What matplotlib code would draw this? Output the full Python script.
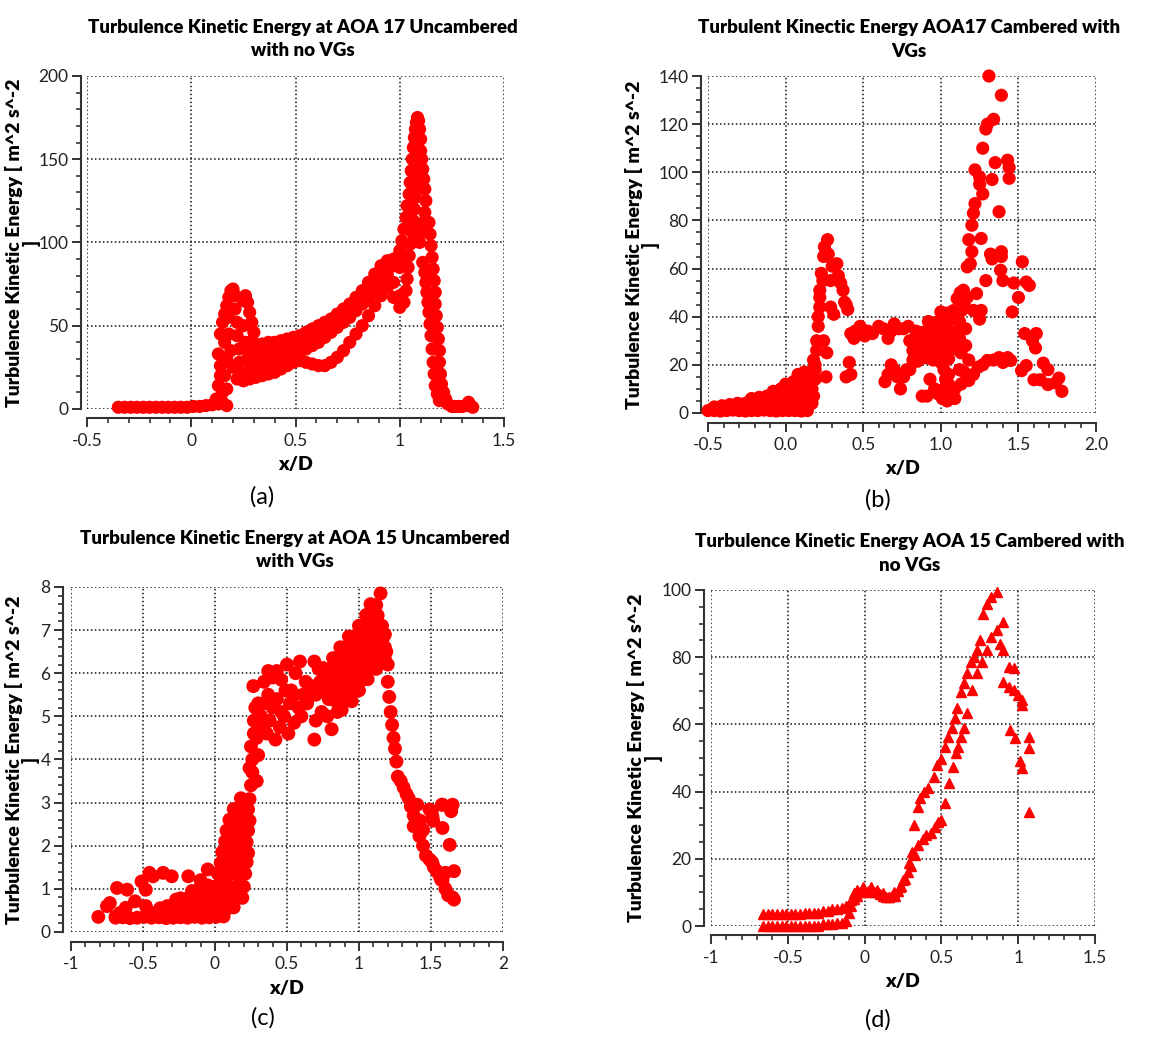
import matplotlib
matplotlib.use('Agg')
import matplotlib.pyplot as plt
from matplotlib.ticker import MultipleLocator, FormatStrFormatter

plt.rcParams['axes.unicode_minus'] = False
FONT = ['Lato', 'DejaVu Sans']
plt.rcParams['font.family'] = FONT
RED = '#ff0000'

# ---------------- (a) AOA 17 uncambered, no VGs ----------------
a_x_base = [-0.35, -0.32, -0.29, -0.26, -0.23, -0.20, -0.17, -0.14, -0.11, -0.08, -0.05,
            -0.02, 0.01, 0.04, 0.07, 0.10, 0.13, 0.15, 0.17]
a_y_base = [1, 1, 1, 1, 1, 1, 1, 1, 1, 1, 1, 1, 1.5, 1.5, 2, 2.5, 3, 4, 2]
a_x_pk1 = [0.12, 0.13, 0.14, 0.15, 0.14, 0.13, 0.14, 0.15, 0.16, 0.17, 0.18, 0.19, 0.20,
           0.21, 0.21, 0.22, 0.22, 0.23, 0.23, 0.24, 0.22, 0.20, 0.19, 0.18, 0.17, 0.16,
           0.17, 0.25, 0.26, 0.27, 0.28, 0.29, 0.30, 0.31, 0.25, 0.26, 0.27, 0.26, 0.25,
           0.16, 0.18]
a_y_pk1 = [6, 14, 20, 10, 26, 33, 45, 52, 57, 62, 67, 71, 72, 68, 60, 52, 44, 36, 28, 22,
           18, 25, 35, 45, 30, 20, 12, 65, 68, 64, 58, 52, 46, 38, 50, 40, 30, 20, 17, 40, 55]
a_x_band = [0.28, 0.31, 0.34, 0.37, 0.40, 0.43, 0.46, 0.49, 0.52, 0.55, 0.58, 0.61, 0.64,
            0.67, 0.70, 0.73, 0.76, 0.79, 0.82, 0.85, 0.88, 0.91, 0.94, 0.97, 1.00]
a_y_band_top = [40, 39, 39, 40, 40, 41, 42, 43, 44, 46, 48, 50, 52, 54, 57, 60, 63, 67, 71,
                76, 81, 86, 89, 90, 90]
a_y_band_m1 = [34, 34, 35, 36, 37, 38, 39, 40, 41, 43, 45, 47, 49, 52, 55, 58, 61, 65, 69,
               73, 78, 83, 86, 86, 85]
a_y_band_m2 = [28, 29, 30, 31, 32, 33, 35, 36, 38, 40, 42, 44, 46, 49, 52, 55, 58, 62, 66,
               70, 75, 79, 81, 76, 68]
a_y_band_low = [22, 23, 24, 26, 27, 28, 30, 32, 34, 36, 38, 40, 43, 46, 49, 52, 55, 59, 63,
                67, 71, 74, 73, 67, 61]
a_x_loop = [0.25, 0.28, 0.31, 0.34, 0.37, 0.40, 0.43, 0.46, 0.49, 0.52, 0.55, 0.58, 0.61,
            0.64, 0.67, 0.70, 0.73, 0.76, 0.79, 0.82, 0.85, 0.88, 0.91]
a_y_loop = [17, 18, 19, 20, 21, 22, 24, 26, 28, 29, 28, 27, 26, 26, 28, 31, 35, 40, 45, 50,
            56, 62, 68]
a_x_rise1 = [1.00, 1.01, 1.02, 1.03, 1.035, 1.045, 1.05, 1.055, 1.06, 1.065, 1.07, 1.075,
             1.08, 1.085]
a_y_rise1 = [95, 101, 108, 115, 122, 129, 136, 143, 150, 157, 163, 168, 172, 175]
a_x_rise2 = [1.02, 1.03, 1.035, 1.04, 1.045, 1.05, 1.06, 1.065, 1.07, 1.075, 1.08, 1.085, 1.09]
a_y_rise2 = [64, 71, 78, 85, 92, 99, 106, 113, 120, 127, 134, 141, 148]
a_x_pkr = [1.09, 1.095, 1.10, 1.10, 1.105, 1.11, 1.115, 1.12, 1.125, 1.12, 1.115, 1.10,
           1.085, 1.095, 1.10]
a_y_pkr = [173, 168, 162, 155, 150, 144, 138, 132, 125, 118, 112, 110, 103, 100, 106]
a_x_d1 = [1.14, 1.145, 1.15, 1.155, 1.16, 1.165, 1.17, 1.17, 1.175, 1.18, 1.185, 1.19, 1.19,
          1.195, 1.20, 1.21, 1.22, 1.23, 1.25]
a_y_d1 = [112, 105, 98, 91, 84, 77, 70, 63, 56, 49, 42, 35, 28, 21, 15, 10, 6, 3, 1.5]
a_x_d2 = [1.11, 1.12, 1.125, 1.13, 1.135, 1.14, 1.145, 1.15, 1.155, 1.16, 1.165, 1.17, 1.18, 1.19]
a_y_d2 = [88, 82, 76, 70, 64, 58, 51, 44, 36, 28, 21, 14, 9, 5]
a_x_tail = [1.26, 1.28, 1.30, 1.32, 1.34, 1.35, 1.33]
a_y_tail = [1.5, 1.5, 1.5, 2, 2, 1, 4]

# ---------------- (b) AOA 17 cambered, with VGs ----------------
b_x_wedge = [-0.50, -0.46, -0.42, -0.38, -0.34, -0.30, -0.26, -0.22, -0.18, -0.14, -0.10,
             -0.06, -0.02, 0.02, 0.06, 0.10, 0.14,
             -0.46, -0.41, -0.36, -0.31, -0.26, -0.21, -0.16, -0.11, -0.06, -0.01, 0.04,
             0.09, 0.14, 0.17,
             -0.22, -0.17, -0.12, -0.07, -0.02, 0.03, 0.08, 0.13, 0.18,
             -0.08, -0.03, 0.02, 0.07, 0.12, 0.17,
             0.00, 0.05, 0.10, 0.15, 0.19,
             0.08, 0.12, 0.16, 0.19]
b_y_wedge = [1, 1, 0.8, 1, 1.2, 1, 0.8, 1, 1, 1.2, 1, 0.8, 1, 1, 1, 0.8, 1,
             2.5, 3, 3.5, 4, 4, 4.2, 4, 4.3, 4, 4.2, 4, 4.2, 4, 4,
             6, 6.5, 7, 7.2, 7, 7.3, 7, 7.2, 7,
             9, 10, 10.2, 10, 10.3, 10,
             12, 13, 14, 14, 14,
             16, 17, 17, 18]
b_x_pk = [0.18, 0.20, 0.21, 0.22, 0.22, 0.23, 0.245, 0.27, 0.275, 0.30, 0.29, 0.33, 0.37,
          0.38, 0.39, 0.40, 0.29, 0.31, 0.245, 0.26, 0.265, 0.20, 0.21, 0.19, 0.22, 0.24,
          0.25, 0.34, 0.355, 0.42, 0.41, 0.39, 0.42, 0.45, 0.44]
b_y_pk = [22, 30, 36, 44, 51, 58, 65, 72, 66, 61, 55, 62, 51, 46, 45, 43, 44, 41, 30, 15,
          25, 26, 40, 20, 48, 55, 69, 57, 54, 33, 21, 15, 16, 34, 31]
b_x_mid = [0.45, 0.48, 0.51, 0.53, 0.56, 0.60, 0.63, 0.66, 0.68, 0.70, 0.73, 0.76, 0.79]
b_y_mid = [34, 36, 32, 34, 33, 36, 35, 31, 34, 37, 35, 35, 36]
b_x_lo = [0.64, 0.66, 0.68, 0.70, 0.72, 0.74, 0.76, 0.78, 0.80, 0.82, 0.88, 0.91, 0.93,
          0.96, 0.98, 1.01, 1.04, 1.07, 1.09]
b_y_lo = [13, 16, 20, 18, 15, 10, 15, 18, 18, 22, 7, 7, 14, 10, 8, 6, 5, 8, 6]
b_x_core = [0.85, 0.90, 0.95, 1.00, 1.05,
            0.82, 0.86, 0.90, 0.94, 0.98, 1.02, 1.06, 1.10,
            0.80, 0.84, 0.88, 0.92, 0.96, 1.00, 1.04, 1.08, 1.12,
            0.84, 0.88, 0.92, 0.96, 1.00, 1.04, 1.08, 1.12, 1.16,
            0.92, 0.96, 1.00, 1.04, 1.08, 1.12,
            1.00, 1.04, 1.08,
            1.02, 1.03, 1.02, 1.05, 1.05]
b_y_core = [21.5, 23, 22, 21, 22.5,
            26, 25.5, 26.5, 26, 25, 26.5, 26, 27,
            30, 29.5, 30.5, 30, 31, 29.5, 30, 30.5, 31,
            34, 33.5, 34.5, 35, 34, 35, 33.5, 34, 35,
            38, 37.5, 38.5, 38, 39, 38,
            42, 41.5, 42.5,
            18, 14, 10, 12, 16]
b_x_up = [1.31, 1.39, 1.34, 1.30, 1.29, 1.27, 1.35, 1.43, 1.44, 1.44, 1.22, 1.25, 1.25, 1.33,
          1.27, 1.22, 1.21, 1.20, 1.18, 1.26, 1.20, 1.375, 1.32, 1.33, 1.39, 1.39, 1.19,
          1.17, 1.385, 1.40, 1.29, 1.47, 1.55, 1.57, 1.525, 1.50, 1.46, 1.23, 1.125, 1.145,
          1.105, 1.26, 1.25, 1.21, 1.135, 1.15, 1.17]
b_y_up = [140, 132, 122, 120, 118, 110, 104, 105, 102, 97.5, 101, 98, 95, 97, 91, 87, 83,
          78, 72, 72.5, 67, 83.6, 66, 64, 67, 65, 62, 60.7, 59.3, 55, 55, 54, 54.4, 53,
          62.8, 48, 42, 49.6, 50, 51, 47.5, 42.6, 39, 42.6, 42.6, 45, 48]
b_x_arc = [1.05, 1.09, 1.13, 1.18, 1.21, 1.24, 1.27, 1.30, 1.34, 1.375, 1.40, 1.43, 1.45,
           1.52, 1.55, 1.60, 1.64, 1.66, 1.69, 1.69, 1.74, 1.76, 1.78, 1.54, 1.615, 1.59,
           1.61, 1.12, 1.15, 1.18, 1.13, 1.16]
b_y_arc = [9, 10, 12, 13.5, 16, 19, 20, 21.8, 22, 23, 21, 23, 21.8, 17.6, 19.7, 13.8, 13.8,
           20.7, 18, 11.8, 12.5, 14.5, 9, 33, 33, 30, 27, 18, 17, 22, 25, 28]

# ---------------- (c) AOA 15 uncambered, with VGs ----------------
c_x_sparse = [-0.81, -0.75, -0.73, -0.68, -0.61, -0.69, -0.66, -0.62, -0.555, -0.51, -0.48,
              -0.455, -0.43, -0.36, -0.30, -0.185, -0.48, -0.42, -0.33, -0.27, -0.16,
              -0.10, -0.05]
c_y_sparse = [0.35, 0.6, 0.67, 1.02, 0.98, 0.36, 0.44, 0.56, 0.71, 1.17, 0.98, 1.37, 1.29,
              1.37, 1.29, 1.29, 0.6, 0.44, 0.6, 0.75, 0.95, 1.2, 1.45]
c_x_low = [-0.69, -0.64, -0.59, -0.54, -0.49, -0.44, -0.39, -0.34, -0.29, -0.24, -0.19,
           -0.14, -0.09, -0.04, 0.01, 0.06,
           -0.38, -0.31, -0.26, -0.21, -0.16, -0.11, -0.06, -0.01, 0.04, 0.09, 0.13,
           -0.24, -0.18, -0.13, -0.08, -0.03, 0.02, 0.07, 0.12, 0.16, 0.19,
           -0.10, -0.05, 0.00, 0.05, 0.10, 0.15, 0.20]
c_y_low = [0.33, 0.34, 0.32, 0.33, 0.35, 0.33, 0.34, 0.32, 0.33, 0.34, 0.33, 0.35, 0.33,
           0.34, 0.35, 0.36,
           0.55, 0.52, 0.56, 0.55, 0.58, 0.55, 0.57, 0.56, 0.58, 0.55, 0.57,
           0.78, 0.8, 0.82, 0.8, 0.83, 0.8, 0.82, 0.8, 0.81, 0.79,
           1.05, 1.08, 1.05, 1.07, 1.05, 1.06, 1.05]
c_x_col = [0.02, 0.07, 0.12, 0.17, 0.21,
           0.04, 0.09, 0.14, 0.19, 0.22,
           0.05, 0.10, 0.15, 0.20, 0.23,
           0.07, 0.12, 0.17, 0.22,
           0.08, 0.13, 0.18, 0.23,
           0.10, 0.15, 0.20, 0.24,
           0.13, 0.18, 0.23,
           0.18, 0.24,
           0.25, 0.26, 0.26, 0.25, 0.27, 0.27, 0.28, 0.29, 0.30, 0.29, 0.31, 0.266, 0.30,
           0.32, 0.24]
c_y_col = [1.35, 1.33, 1.36, 1.34, 1.35,
           1.6, 1.58, 1.61, 1.6, 1.62,
           1.85, 1.84, 1.86, 1.85, 1.83,
           2.1, 2.12, 2.1, 2.08,
           2.35, 2.36, 2.34, 2.35,
           2.6, 2.62, 2.6, 2.58,
           2.85, 2.87, 2.84,
           3.1, 3.08,
           3.4, 3.7, 4.0, 4.3, 4.6, 4.9, 5.2, 3.5, 4.1, 4.5, 4.8, 5.7, 5.3, 5.0, 3.8]
c_x_plat = [0.34, 0.37, 0.40, 0.43, 0.46, 0.50, 0.53, 0.56, 0.59, 0.63, 0.66, 0.69, 0.72,
            0.75, 0.34, 0.37, 0.40, 0.43, 0.46, 0.49, 0.52, 0.55, 0.58, 0.61, 0.64, 0.67,
            0.70, 0.73, 0.34, 0.38, 0.42, 0.45, 0.48, 0.51, 0.55, 0.60, 0.69, 0.70, 0.74,
            0.78, 0.81, 0.79, 0.76, 0.36]
c_y_plat = [5.8, 6.05, 5.9, 6.05, 5.85, 6.2, 5.6, 6.0, 6.27, 5.8, 5.5, 6.27, 6.1, 6.12,
            5.3, 5.5, 5.2, 5.4, 5.1, 5.6, 5.3, 5.5, 5.2, 5.5, 5.3, 5.7, 5.5, 5.8,
            4.8, 4.9, 4.46, 4.75, 5.0, 4.6, 4.85, 5.0, 4.46, 4.9, 5.1, 5.0, 4.7, 5.4, 5.6,
            4.6]
c_x_dense = [0.85, 0.88,
             0.84, 0.88, 0.92, 0.95,
             0.80, 0.84, 0.88, 0.92, 0.96, 1.00,
             0.78, 0.82, 0.86, 0.90, 0.94, 0.98, 1.02, 1.06,
             0.80, 0.84, 0.88, 0.92, 0.96, 1.00, 1.04, 1.08, 1.12,
             0.82, 0.86, 0.90, 0.94, 0.98, 1.02, 1.06, 1.10, 1.14, 1.18,
             0.87, 0.91, 0.95, 0.99, 1.03, 1.07, 1.11, 1.15, 1.18,
             0.93, 0.97, 1.01, 1.05, 1.09, 1.13, 1.17,
             1.00, 1.04, 1.08, 1.12, 1.16,
             1.05, 1.09, 1.13,
             1.08, 1.12, 1.15]
c_y_dense = [5.1, 5.15,
             5.35, 5.3, 5.4, 5.35,
             5.6, 5.62, 5.58, 5.6, 5.62, 5.6,
             5.85, 5.87, 5.84, 5.85, 5.86, 5.85, 5.84, 5.86,
             6.1, 6.12, 6.08, 6.1, 6.11, 6.1, 6.09, 6.12, 6.1,
             6.35, 6.36, 6.34, 6.35, 6.37, 6.35, 6.34, 6.36, 6.35, 6.33,
             6.6, 6.61, 6.59, 6.6, 6.62, 6.6, 6.6, 6.58, 6.6,
             6.85, 6.86, 6.84, 6.85, 6.86, 6.85, 6.84,
             7.1, 7.11, 7.09, 7.1, 7.1,
             7.35, 7.36, 7.34,
             7.6, 7.58, 7.85]
c_x_desc = [1.18, 1.19, 1.20, 1.20, 1.21, 1.22, 1.23, 1.24, 1.25, 1.26, 1.27, 1.29, 1.31,
            1.33, 1.345, 1.365, 1.38, 1.405, 1.425, 1.445, 1.445, 1.465, 1.49, 1.505, 1.52,
            1.545, 1.56, 1.58, 1.60, 1.62, 1.65, 1.66, 1.49, 1.51, 1.58, 1.58, 1.64, 1.65,
            1.63, 1.66, 1.60, 1.57, 1.54, 1.51, 1.42, 1.38, 1.36, 1.575, 1.505, 1.515]
c_y_desc = [6.9, 6.5, 6.2, 5.8, 5.45, 5.1, 4.8, 4.5, 4.25, 3.95, 3.6, 3.5, 3.35, 3.2, 3.1,
            2.95, 2.7, 2.95, 2.58, 2.36, 2.0, 1.77, 1.68, 1.63, 1.5, 1.4, 1.3, 1.2, 1.0,
            0.85, 0.8, 0.75, 2.84, 2.68, 2.95, 2.41, 2.8, 2.95, 2.02, 1.41, 1.37, 1.21,
            1.41, 1.6, 2.22, 2.45, 2.91, 2.95, 2.8, 2.58]

# ---------------- (d) AOA 15 cambered, no VGs ----------------
d_x_row = [-0.66, -0.63, -0.60, -0.57, -0.54, -0.51, -0.48, -0.45, -0.42, -0.39, -0.36,
           -0.33, -0.30, -0.27, -0.24, -0.21, -0.18, -0.15, -0.12]
d_y_row_lo = [0, 0, 0, 0, 0, 0, 0, 0, 0, 0, 0, 0, 0, 0.5, 0.5, 0.5, 1, 1, 1.5]
d_y_row_hi = [3.5, 3.5, 3.5, 3.5, 3.5, 3.5, 3.5, 3.5, 3.5, 4, 4, 4, 4, 4.5, 4.5, 5, 5, 5.5, 6]
d_x_lo = [-0.10, -0.09, -0.07, -0.05, -0.03, -0.01, 0.02, 0.04, 0.06, 0.08, 0.10, 0.12,
          0.14, 0.16, 0.18, 0.20, 0.22, 0.24, 0.26, 0.28, 0.30, 0.33, 0.35, 0.38, 0.40,
          0.43, 0.46, 0.48, 0.50, 0.525, 0.55, 0.575, 0.595, 0.605, 0.625, 0.645, 0.665,
          0.70, 0.73, 0.765, 0.795, 0.82, 0.865, 0.90]
d_y_lo = [4, 6, 8, 9, 10, 10, 10.5, 10, 10, 10, 9.5, 9, 8.5, 8.5, 9, 9, 10.5, 12, 14, 16,
          18, 21, 24, 26, 27, 27.6, 29.6, 31, 31.5, 36.5, 42.5, 47.4, 51.4, 53.4, 56.3,
          58.8, 63.3, 70.2, 75.2, 78.7, 82, 86, 88, 90.5]
d_x_bump = [-0.09, -0.07, -0.05, -0.01, 0.04, 0.08, 0.12, 0.16, 0.19, 0.23, 0.25, 0.29, 0.31]
d_y_bump = [7.7, 9.7, 10.7, 11.7, 11.7, 10.7, 9.7, 8.7, 10.2, 11.7, 13.7, 18.7, 22]
d_x_up = [0.32, 0.35, 0.36, 0.39, 0.41, 0.45, 0.47, 0.50, 0.525, 0.545, 0.57, 0.59, 0.60,
          0.625, 0.645, 0.665, 0.69, 0.71, 0.73, 0.75, 0.77, 0.80, 0.825, 0.86]
d_y_up = [30, 35.5, 38, 40, 41, 44.4, 48, 49.6, 53.4, 56.3, 58.8, 61.8, 64.8, 69.7, 72.2,
          75.2, 78.7, 80.2, 82, 85, 93, 95.7, 98, 99.5]
d_x_drop = [0.88, 0.90, 0.90, 0.94, 0.975, 1.00, 1.025, 1.025, 0.94, 0.975, 0.944, 0.98,
            1.015, 1.025, 1.07, 1.07, 1.07]
d_y_drop = [84, 82, 72.7, 71.2, 70.2, 68.7, 67.3, 65.8, 77.2, 76.8, 58.3, 56, 49, 47, 56.3,
            52.9, 34]

YLAB = 'Turbulence Kinetic Energy [ m^2 s^-2\n]'


def style(ax, xlim, ylim, ymaj, ymin, xfmt, title, ylx, offl, offb):
    ax.set_xlim(*xlim)
    ax.set_ylim(*ylim)
    ax.xaxis.set_major_locator(MultipleLocator(0.5))
    ax.xaxis.set_minor_locator(MultipleLocator(0.1))
    ax.yaxis.set_major_locator(MultipleLocator(ymaj))
    ax.yaxis.set_minor_locator(MultipleLocator(ymin))
    ax.xaxis.set_major_formatter(FormatStrFormatter(xfmt))
    ax.yaxis.set_major_formatter(FormatStrFormatter('%g'))
    for s in ('top', 'right'):
        ax.spines[s].set_visible(False)
    ax.spines['left'].set_position(('outward', offl))
    ax.spines['bottom'].set_position(('outward', offb))
    for s in ('left', 'bottom'):
        ax.spines[s].set_linewidth(1.5)
        ax.spines[s].set_color('#333333')
    ax.tick_params(which='major', direction='out', length=6.5, width=1.4, color='#333333',
                   labelsize=12.5, labelcolor='#222222')
    ax.tick_params(axis='y', which='major', pad=2.5)
    ax.tick_params(axis='x', which='major', pad=4)
    ax.tick_params(which='minor', direction='out', length=3.5, width=1.2, color='#333333')
    ax.grid(True, which='major', color='#111111', linestyle=(0, (1, 1.6)), linewidth=1.1)
    ax.set_axisbelow(True)
    ax.set_title(title, fontsize=13.5, fontweight='heavy', pad=14, x=0.518, linespacing=1.45)
    ax.set_ylabel(YLAB, fontsize=14, fontweight='heavy', linespacing=0.95)
    ax.yaxis.set_label_coords(ylx, 0.5)
    ax.set_xlabel('x/D', fontsize=14, fontweight='heavy')
    ax.xaxis.set_label_coords(0.5, -0.14)


def dots(ax, x, y, s=90):
    ax.scatter(x, y, s=s, c=RED, edgecolors='none', clip_on=False, zorder=3)


fig = plt.figure(figsize=(11.73, 10.60), dpi=100)

ax_a = fig.add_axes([0.0742, 0.6142, 0.3555, 0.3142])
for xs, ys in [(a_x_base, a_y_base), (a_x_pk1, a_y_pk1), (a_x_band, a_y_band_top),
               (a_x_band, a_y_band_m1), (a_x_band, a_y_band_m2), (a_x_band, a_y_band_low),
               (a_x_loop, a_y_loop), (a_x_rise1, a_y_rise1), (a_x_rise2, a_y_rise2),
               (a_x_pkr, a_y_pkr), (a_x_d1, a_y_d1), (a_x_d2, a_y_d2), (a_x_tail, a_y_tail)]:
    dots(ax_a, xs, ys)
style(ax_a, (-0.5, 1.5), (0, 200), 50, 10, '%g',
      'Turbulence Kinetic Energy at AOA 17 Uncambered\nwith no VGs', -0.112, 4.3, 6.5)

ax_b = fig.add_axes([0.6036, 0.6104, 0.3308, 0.3179])
for xs, ys in [(b_x_wedge, b_y_wedge), (b_x_pk, b_y_pk), (b_x_mid, b_y_mid),
               (b_x_lo, b_y_lo), (b_x_core, b_y_core), (b_x_up, b_y_up), (b_x_arc, b_y_arc)]:
    dots(ax_b, xs, ys)
style(ax_b, (-0.5, 2.0), (0, 140), 20, 5, '%.1f',
      'Turbulent Kinectic Energy AOA17 Cambered with\nVGs', -0.124, 5, 7)

ax_c = fig.add_axes([0.0605, 0.1208, 0.3683, 0.3255])
for xs, ys in [(c_x_sparse, c_y_sparse), (c_x_low, c_y_low), (c_x_col, c_y_col),
               (c_x_plat, c_y_plat), (c_x_dense, c_y_dense), (c_x_desc, c_y_desc)]:
    dots(ax_c, xs, ys, s=100)
style(ax_c, (-1, 2), (0, 8), 1, 0.2, '%g',
      'Turbulence Kinetic Energy at AOA 15 Uncambered\nwith VGs', -0.072, 5.7, 7)

ax_d = fig.add_axes([0.6061, 0.1264, 0.3274, 0.3170])
for xs, ys in [(d_x_row, d_y_row_lo), (d_x_row, d_y_row_hi), (d_x_lo, d_y_lo),
               (d_x_bump, d_y_bump), (d_x_up, d_y_up), (d_x_drop, d_y_drop)]:
    ax_d.plot(xs, ys, linestyle='none', marker='^', markersize=7.5, color=RED,
              markeredgecolor=RED, clip_on=False, zorder=3)
style(ax_d, (-1, 1.5), (0, 100), 20, 5, '%g',
      'Turbulence Kinetic Energy AOA 15 Cambered with\nno VGs', -0.126, 5, 6.5)

for lbl, px, py in [('(a)', 0.2234, 0.5311), ('(b)', 0.7485, 0.5283),
                    ('(c)', 0.2242, 0.0396), ('(d)', 0.7485, 0.0377)]:
    fig.text(px, py, lbl, fontsize=17, family=['Lato', 'DejaVu Sans'],
             ha='center', va='center')

fig.savefig('out.png', dpi=100)
